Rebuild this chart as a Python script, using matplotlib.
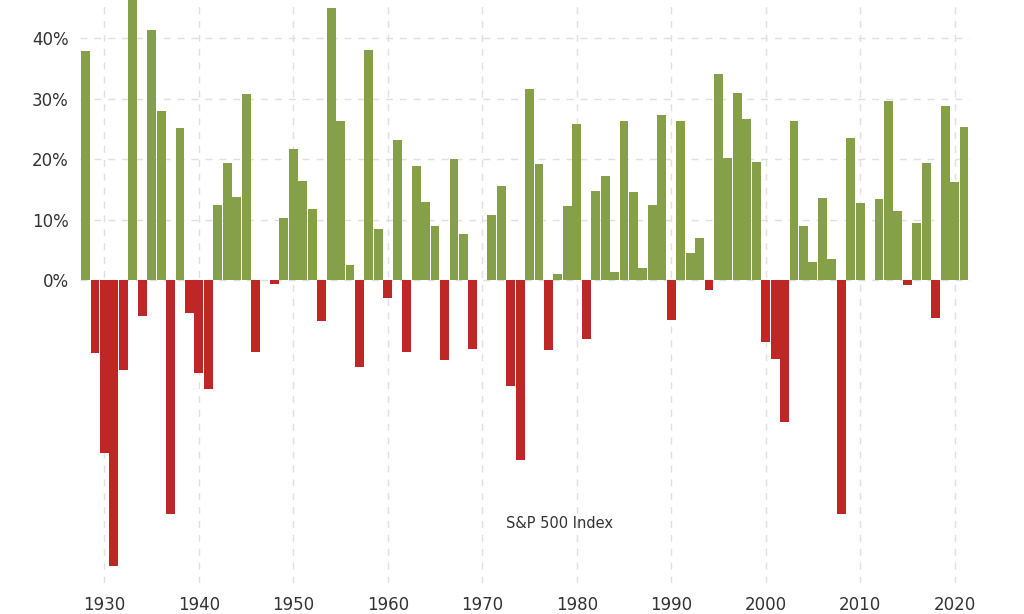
import numpy as np
import matplotlib
matplotlib.use("Agg")
import matplotlib.pyplot as plt

years = list(range(1928, 2022))
returns = [
    37.88, -11.91, -28.48, -47.07, -14.78, 46.59, -5.94, 41.37, 27.92, -38.59,
    25.21, -5.45, -15.29, -17.86, 12.43, 19.45, 13.80, 30.72, -11.87, 0.00,
    -0.65, 10.26, 21.78, 16.46, 11.78, -6.62, 45.02, 26.40, 2.62, -14.31,
    38.06, 8.48, -2.97, 23.13, -11.81, 18.89, 12.97, 9.06, -13.09, 20.09,
    7.66, -11.36, 0.10, 10.79, 15.63, -17.37, -29.72, 31.55, 19.15, -11.50,
    1.06, 12.31, 25.77, -9.73, 14.76, 17.27, 1.40, 26.33, 14.62, 2.03,
    12.40, 27.25, -6.56, 26.31, 4.46, 7.06, -1.54, 34.11, 20.26, 31.01,
    26.67, 19.53, -10.14, -13.04, -23.37, 26.38, 8.99, 3.00, 13.62, 3.53,
    -38.49, 23.45, 12.78, 0.00, 13.41, 29.60, 11.39, -0.73, 9.54, 19.42,
    -6.24, 28.88, 16.26, 25.3,
]
y_ticks = [0, 10, 20, 30, 40]
x_ticks = list(range(1930, 2030, 10))
label = "S&P 500 Index"

green = "#86a04a"
red = "#bf2626"

fig = plt.figure(figsize=(10.24, 6.14), dpi=100)
ax = fig.add_axes([0.078, 0.05, 0.869, 0.95])

colors = [green if r >= 0 else red for r in returns]
ax.bar(years, returns, width=0.94, color=colors, linewidth=0, zorder=2)

ax.set_xlim(1927.4, 2021.6)
ax.set_ylim(-50, 46.3)

ax.set_yticks(y_ticks)
ax.set_yticklabels([f"{t}%" for t in y_ticks])
ax.set_xticks(x_ticks)

ax.tick_params(length=0, labelsize=12, colors="#333333")
ax.tick_params(axis="x", pad=9)
ax.tick_params(axis="y", pad=8)

for s in ax.spines.values():
    s.set_visible(False)

ax.grid(True, color="#e0e0e0", linestyle=(0, (5, 5)), linewidth=1, zorder=0)
ax.set_axisbelow(True)

ax.text(0.539, 0.103, label, transform=ax.transAxes, ha="center", va="center",
        fontsize=10.5, color="#333333")

fig.savefig("out.png", dpi=100)
